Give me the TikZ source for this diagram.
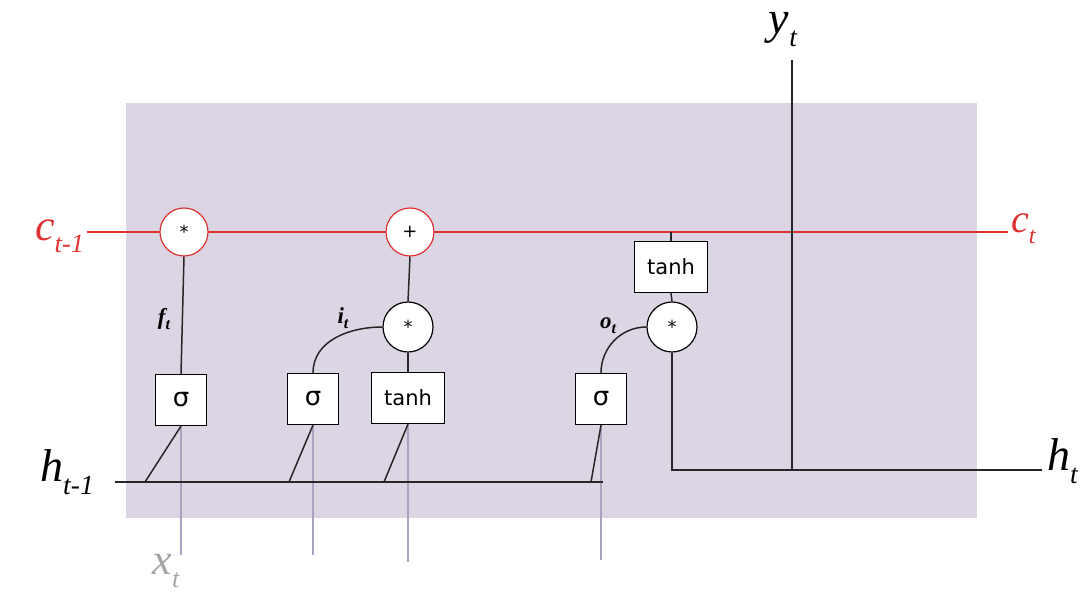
\documentclass[tikz,border=0pt]{standalone}
\usepackage{fontspec}
\setmainfont{Liberation Serif}
\newfontfamily\vsans{DejaVu Sans}
\definecolor{bgpurple}{RGB}{220,214,228}
\definecolor{cellred}{RGB}{224,50,50}
\definecolor{xgray}{RGB}{172,162,192}
\definecolor{xlabel}{RGB}{165,165,165}
\newcommand{\biglab}[3]{{\fontsize{#1}{#1}\selectfont\itshape #2\raisebox{-0.28em}{\fontsize{0.6\dimexpr #1pt\relax}{1}\selectfont #3}}}
\newcommand{\gatelab}[1]{{\fontsize{23}{23}\selectfont\bfseries\itshape #1\raisebox{-0.22em}{\fontsize{16}{16}\selectfont t}}}
\begin{document}
\begin{tikzpicture}[x=1pt,y=-1pt,
  op/.style={circle,draw,fill=white,minimum size=#1,inner sep=0pt,line width=1.2pt,font=\vsans\fontsize{18}{18}\selectfont},
  op/.default=48pt,
  redop/.style={op,draw=cellred},
  fbox/.style={draw,fill=white,line width=1.2pt,inner sep=0pt,minimum height=51pt},
  sig/.style={fbox,minimum width=51pt,font=\vsans\fontsize{26}{26}\selectfont},
  th/.style={fbox,minimum width=73pt,font=\vsans\fontsize{21}{21}\selectfont},
  wire/.style={line width=1.5pt,black!85},
  xwire/.style={line width=1.5pt,xgray}]
\useasboundingbox (0,0) rectangle (1083,593);
\fill[bgpurple] (126,103) rectangle (977,518);
% labels
\node[cellred,anchor=west,inner sep=0pt] (cprev) at (35,236) {\biglab{44}{c}{t-1}};
\node[cellred,anchor=west,inner sep=0pt] (cnext) at (1011,229) {\biglab{40}{c}{t}};
\node[anchor=west,inner sep=0pt] (hprev) at (40,472) {\biglab{46}{h}{t-1}};
\node[anchor=west,inner sep=0pt] (hnext) at (1047,461) {\biglab{46}{h}{t}};
\node[inner sep=0pt] (ylab) at (783,30) {\biglab{46}{y}{t}};
\node[xlabel,inner sep=0pt] (xlab) at (166,571) {\biglab{44}{x}{t}};
% cell line
\coordinate (cl) at (87,232);
\coordinate (cr) at (1008,232);
\draw[cellred,line width=1.5pt] (cl) -- (cr);
\node[redop=46pt] (m1) at (184,232) {*};
\node[redop=46pt] (a1) at (410,232) {+};
% boxes
\node[sig] (s1) at (181,400) {σ};
\node[sig] (s2) at (313,399) {σ};
\node[th] (t1) at (408,398) {tanh};
\node[sig] (s3) at (601,399) {σ};
\node[th] (t2) at (671,267) {tanh};
\node[op=50pt] (m2) at (408,327) {*};
\node[op=50pt] (m3) at (672,327) {*};
% gate labels
\node[inner sep=0pt] (fl) at (164,319) {\gatelab{f}};
\node[inner sep=0pt] (il) at (343,318) {\gatelab{i}};
\node[inner sep=0pt] (ol) at (608,326) {\gatelab{o}};
% x inputs
\coordinate (x1) at (181,555);
\coordinate (x2) at (313,555);
\coordinate (x3) at (408,562);
\coordinate (x4) at (601,560);
\draw[xwire] (s1.south) -- (x1);
\draw[xwire] (s2.south) -- (x2);
\draw[xwire] (t1.south) -- (x3);
\draw[xwire] (s3.south) -- (x4);
% h_{t-1} line
\coordinate (hl) at (115,482);
\coordinate (hr) at (603,482);
\draw[wire] (hl) -- (hr);
\coordinate (d1) at (145,482);
\coordinate (d2) at (289,482);
\coordinate (d3) at (384,482);
\coordinate (d4) at (591,482);
\draw[wire] (d1) -- (s1.south);
\draw[wire] (d2) -- (s2.south);
\draw[wire] (d3) -- (t1.south);
\draw[wire] (d4) -- (s3.south);
% gate connections
\draw[wire] (s1.north) -- (m1.south);
\draw[wire] (t1.north) -- (m2.south);
\draw[wire] (m2.north) -- (a1.south);
\draw[wire] (s2.north) to[out=90,in=180] (m2.west);
\draw[wire] (s3.north) to[out=90,in=180] (m3.west);
\coordinate (tc) at (671,232);
\draw[wire] (tc) -- (t2.north);
\draw[wire] (t2.south) -- (m3.north);
% output
\coordinate (hc) at (672,470);
\coordinate (hend) at (1042,470);
\coordinate (ytop) at (792,60);
\coordinate (yj) at (792,470);
\draw[wire] (m3.south) -- (hc) -- (hend);
\draw[wire] (ytop) -- (yj);
\end{tikzpicture}
\end{document}
